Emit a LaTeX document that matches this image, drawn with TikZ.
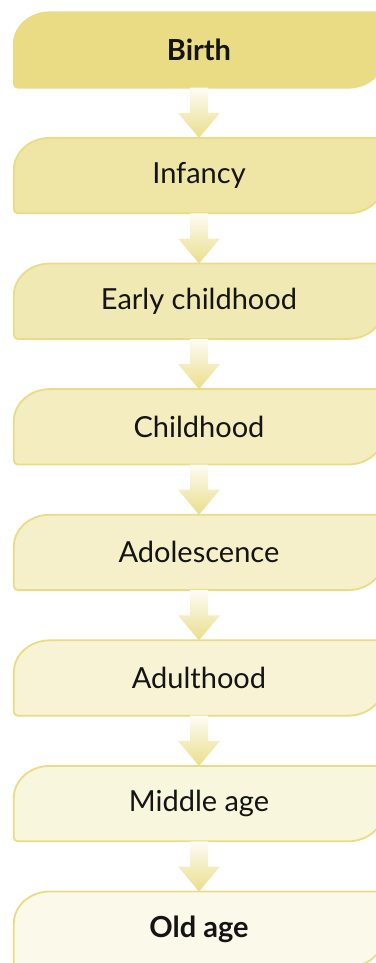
\documentclass[tikz,border=0pt]{standalone}
\usepackage{fontspec}
\setmainfont{Lato}
\usepackage{tikz}
\usetikzlibrary{backgrounds}
\definecolor{stageyel}{HTML}{E9DC84}
\definecolor{textcol}{HTML}{141414}
\tikzstyle{stage} = [rectangle, text=textcol, minimum width=370pt, minimum height=75pt,
inner sep=0pt, font=\fontsize{29}{34}\selectfont]
\tikzstyle{endstage} = [stage, font=\fontsize{29}{34}\selectfont\bfseries]
\tikzstyle{outline} = [draw=stageyel, line width=1.8pt]
\tikzstyle{flow} = [top color=stageyel!8, bottom color=stageyel!95, draw=none]

\begin{document}
\begin{tikzpicture}[x=1pt, y=1pt, node distance=125.6pt]
\useasboundingbox (0,0) rectangle (375,-963);
\clip (0,0) rectangle (375,-963);
% Place nodes
\node [endstage] (birth) at (199,-50) {Birth};
\node [stage, below of=birth] (infancy) {Infancy};
\node [stage, below of=infancy] (early) {Early childhood};
\node [stage, below of=early] (childhood) {Childhood};
\node [stage, below of=childhood] (adolescence) {Adolescence};
\node [stage, below of=adolescence] (adulthood) {Adulthood};
\node [stage, below of=adulthood] (middle) {Middle age};
\node [endstage, below of=middle] (old) {Old age};
% Draw box outlines
\begin{scope}[on background layer]
\foreach \n/\c in {birth/100, infancy/72, early/62, childhood/52, adolescence/44, adulthood/35, middle/27, old/17}
  \draw [outline, fill=stageyel!\c] ([yshift=4pt]\n.south west)
    -- ([yshift=-32pt]\n.north west) arc [start angle=180, end angle=90, x radius=36pt, y radius=32pt]
    -- (\n.north east)
    -- ([yshift=32pt]\n.south east) arc [start angle=0, end angle=-90, x radius=36pt, y radius=32pt]
    -- ([xshift=4pt]\n.south west) arc [start angle=270, end angle=180, radius=4pt] -- cycle;
\end{scope}
% Draw edges
\foreach \a/\b in {birth/infancy, infancy/early, early/childhood, childhood/adolescence,
                   adolescence/adulthood, adulthood/middle, middle/old}
  \path [flow] ([xshift=-9pt]\a.south) -- ([xshift=-9pt, yshift=25pt]\b.north)
    -- ([xshift=-21pt, yshift=25pt]\b.north) -- (\b.north)
    -- ([xshift=21pt, yshift=25pt]\b.north) -- ([xshift=9pt, yshift=25pt]\b.north)
    -- ([xshift=9pt]\a.south) -- cycle;
\end{tikzpicture}
\end{document}
